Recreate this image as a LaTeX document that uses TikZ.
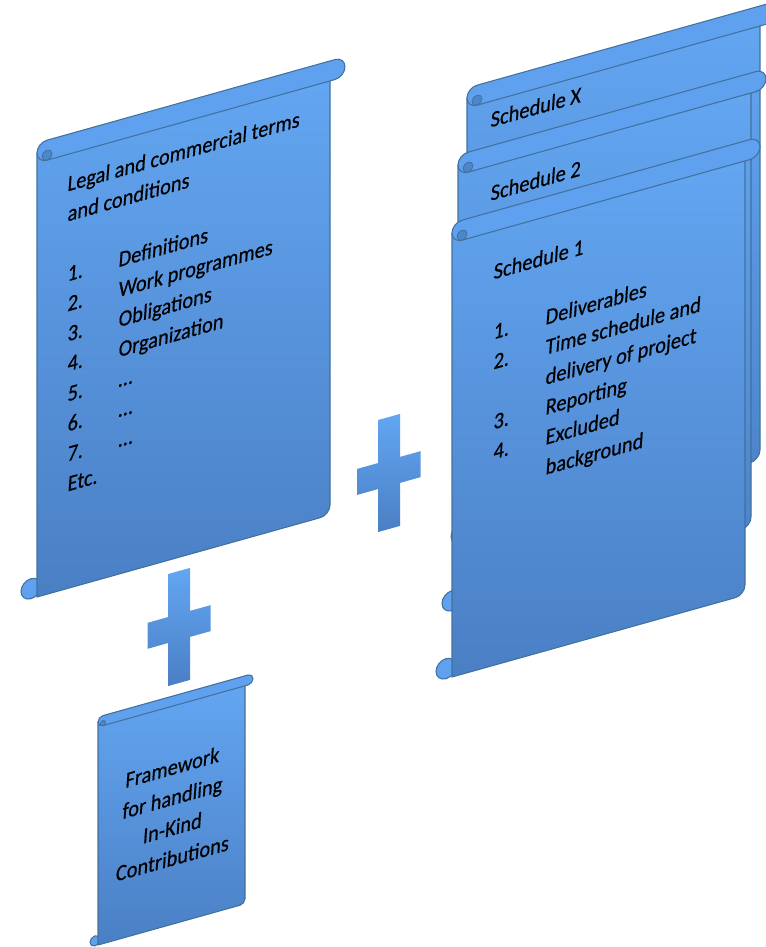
\documentclass[tikz,border=0pt]{standalone}
\usepackage{fontspec}
\setmainfont{Carlito}[FakeSlant=0.08, FakeBold=0.4]
\usepackage{xcolor}
\usepackage{tikz}

\definecolor{scrolltop}{HTML}{63A6F2}
\definecolor{scrollbot}{HTML}{4A7FC4}
\definecolor{scrolledge}{HTML}{41719C}
\definecolor{rollblue}{HTML}{5FA1EE}
\definecolor{curlblue}{HTML}{4E86CC}

% scroll in local coordinates: #1 body width, #2 height, #3 roll thickness, #4 roll overhang
\newcommand{\scrollshape}[4]{%
  \pgfmathsetmacro{\rr}{#3/2}
  \path[scrollroll] ({-0.6*\rr},{-#2+\rr}) circle[radius=\rr];
  \path[scrollbody] (0,-\rr) -- (0,-#2) -- ({#1-\rr},-#2) arc[start angle=-90, end angle=0, radius=\rr]
    -- (#1,-\rr) -- cycle;
  \path[scrollroll] (\rr,0) -- ({#1+#4-\rr},0) arc[start angle=90, end angle=-90, radius=\rr]
    -- (\rr,-#3) arc[start angle=270, end angle=90, radius=\rr] -- cycle;
  \path[scrollcurl] (\rr,{-1.5*\rr}) circle[radius={0.5*\rr}];
}
\newcommand{\plusshape}{%
  \path[plusfill] (-11,56) -- (11,56) -- (11,13) -- (31.5,13) -- (31.5,-13) -- (11,-13)
    -- (11,-56) -- (-11,-56) -- (-11,-13) -- (-31.5,-13) -- (-31.5,13) -- (-11,13) -- cycle;
}

\begin{document}
\begin{tikzpicture}[x=0.75pt, y=0.75pt,
    scrollbody/.style={draw=scrolledge, line width=0.8pt, top color=scrolltop, bottom color=scrollbot},
    scrollroll/.style={draw=scrolledge, line width=0.8pt, fill=rollblue},
    scrollcurl/.style={draw=scrolledge, line width=0.6pt, fill=curlblue},
    plusfill/.style={top color=scrolltop, bottom color=scrollbot},
    scrolltext/.style={anchor=base west, inner sep=0pt, yscale=1.1, font=\fontsize{15.3}{18}\selectfont}]

    \clip (0,0) rectangle (766,947);

    % Terms and conditions
    \begin{scope}[shift={(37,804)}, yslant=0.28, transform shape]
        \scrollshape{293}{454}{20}{15}
        \node[scrolltext] (terms1) at (30,-57) {Legal and commercial terms};
        \node[scrolltext] (terms2) at (30,-87) {and conditions};
        \foreach \entry [count=\i] in {Definitions, Work programmes, Obligations, Organization, …, …, …} {
            \node[scrolltext] (num\i) at (30,{-117-30*\i}) {\i.};
            \node[scrolltext] (item\i) at (81,{-117-30*\i}) {\entry};
        }
        \node[scrolltext] (etc) at (30,-357) {Etc.};
    \end{scope}

    % Schedules
    \begin{scope}[shift={(467,859)}, yslant=0.28, transform shape]
        \scrollshape{293}{454}{20}{15}
        \node[scrolltext] (schedx) at (23,-46) {Schedule X};
    \end{scope}
    \begin{scope}[shift={(458,792)}, yslant=0.28, transform shape]
        \scrollshape{293}{454}{20}{15}
        \node[scrolltext] (sched2) at (32,-55) {Schedule 2};
    \end{scope}
    \begin{scope}[shift={(452,724)}, yslant=0.28, transform shape]
        \scrollshape{293}{454}{20}{15}
        \node[scrolltext] (sched1) at (41,-68) {Schedule 1};
        \node[scrolltext] (snum1) at (41,-128) {1.};
        \node[scrolltext] (sitem1) at (93,-128) {Deliverables};
        \node[scrolltext] (snum2) at (41,-158) {2.};
        \node[scrolltext] (sitem2) at (93,-158) {Time schedule and};
        \node[scrolltext] (sitem2b) at (93,-188) {delivery of project};
        \node[scrolltext] (snum3) at (41,-218) {3.};
        \node[scrolltext] (sitem3) at (93,-218) {Reporting};
        \node[scrolltext] (snum4) at (41,-248) {4.};
        \node[scrolltext] (sitem4) at (93,-248) {Excluded};
        \node[scrolltext] (sitem4b) at (93,-278) {background};
    \end{scope}

    % In-kind framework
    \begin{scope}[shift={(98,230)}, yslant=0.28, transform shape]
        \scrollshape{147}{228}{10}{8}
        \foreach \entry [count=\i] in {Framework, for handling, In-Kind, Contributions}
            \node[scrolltext, anchor=base] (frame\i) at (74,{-48.4-30.3*\i}) {\entry};
    \end{scope}

    % Plus signs
    \begin{scope}[shift={(389,474)}, yslant=0.28]
        \plusshape
    \end{scope}
    \begin{scope}[shift={(179,320)}, yslant=0.28]
        \plusshape
    \end{scope}

\end{tikzpicture}
\end{document}
